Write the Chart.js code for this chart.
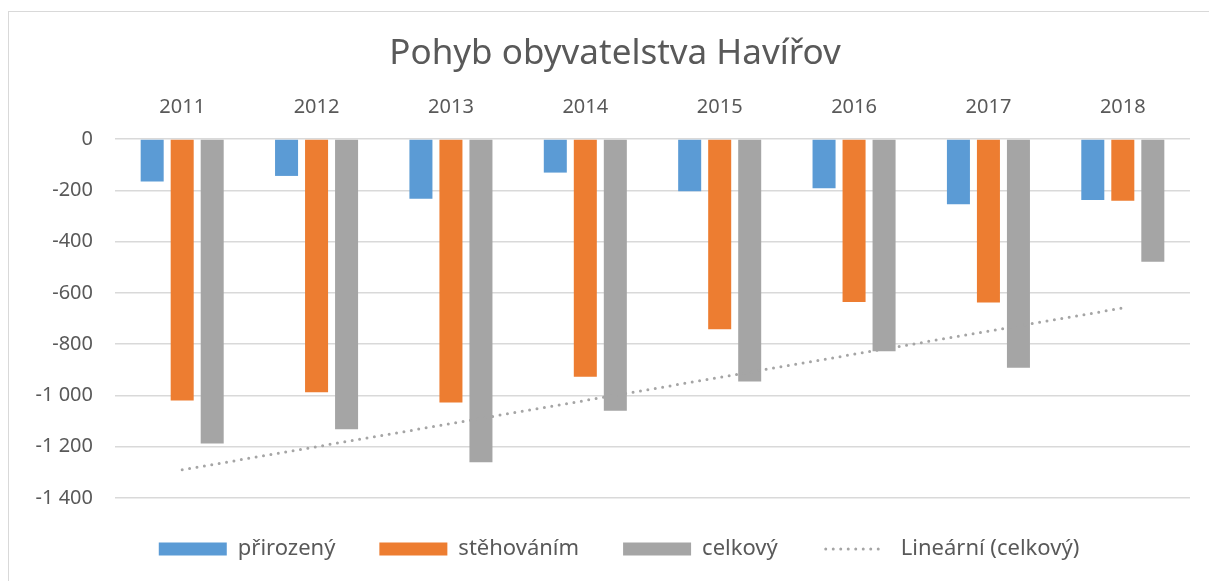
<!DOCTYPE html>
<html lang="cs">
<head>
  <meta charset="UTF-8" />
  <title>Pohyb obyvatelstva Havířov</title>
  <style>
    html, body {
      margin: 0;
      padding: 0;
      background: #fff;
    }
    #wrap {
      position: relative;
      width: 1209px;
      height: 581px;
    }
  </style>
</head>
<body>
  <div id="wrap">
    <canvas id="popChart"></canvas>
  </div>

  <script src="https://cdn.jsdelivr.net/npm/chart.js"></script>
  <script>
    // data
    const years = ['2011', '2012', '2013', '2014', '2015', '2016', '2017', '2018'];
    const prirozeny = [-166, -144, -233, -131, -204, -192, -254, -238];
    const stehovanim = [-1020, -988, -1028, -927, -742, -636, -638, -241];
    const celkovy = [-1187, -1132, -1261, -1060, -946, -828, -892, -479];
    // trend line: only its two ends
    const trendCelkovy = [-1290, null, null, null, null, null, null, -659];

    const textColor = '#595959';
    const fontFamily = "'Noto Sans', 'Open Sans', sans-serif";

    function fmt(v) {
      const s = Math.abs(v).toString().replace(/\B(?=(\d{3})+(?!\d))/g, ' ');
      return (v < 0 ? '-' : '') + s;
    }

    // thin frame round the chart, like the office chart box
    const framePlugin = {
      id: 'frame',
      beforeDraw(chart) {
        const c = chart.ctx;
        c.save();
        c.strokeStyle = '#d9d9d9';
        c.lineWidth = 1;
        c.strokeRect(8.5, 11.5, 1300, 700);
        c.restore();
      }
    };

    // title and legend are centred on the whole chart box, not the plot
    const shiftPlugin = {
      id: 'shiftBlocks',
      afterLayout(chart) {
        if (chart.titleBlock) {
          chart.titleBlock.left += 20;
          chart.titleBlock.right += 20;
        }
        if (chart.legend) {
          chart.legend.left += 24;
          chart.legend.right += 24;
          chart.legend.top -= 4;
          chart.legend.bottom -= 4;
        }
      }
    };

    // dotted sample for the trend line in the legend
    const trendLegendPlugin = {
      id: 'trendLegend',
      afterDraw(chart) {
        const boxes = chart.legend && chart.legend.legendHitBoxes;
        if (!boxes || !boxes[3]) return;
        const hb = boxes[3];
        const c = chart.ctx;
        c.save();
        c.strokeStyle = '#a5a5a5';
        c.lineWidth = 3;
        c.lineCap = 'round';
        c.setLineDash([0, 7.5]);
        const y = hb.top + hb.height / 2;
        c.beginPath();
        c.moveTo(hb.left + 4, y);
        c.lineTo(hb.left + 60, y);
        c.stroke();
        c.restore();
      }
    };

    const ctx = document.getElementById('popChart').getContext('2d');
    const popChart = new Chart(ctx, {
      type: 'bar',
      data: {
        labels: years,
        datasets: [
          {
            label: 'přirozený',
            data: prirozeny,
            backgroundColor: '#5b9bd5',
            order: 1
          },
          {
            label: 'stěhováním',
            data: stehovanim,
            backgroundColor: '#ed7d31',
            order: 1
          },
          {
            label: 'celkový',
            data: celkovy,
            backgroundColor: '#a5a5a5',
            order: 1
          },
          {
            type: 'line',
            label: 'Lineární (celkový)',
            data: trendCelkovy,
            borderColor: '#a5a5a5',
            borderWidth: 3,
            borderDash: [0, 7.5],
            borderCapStyle: 'round',
            pointRadius: 0,
            spanGaps: true,
            fill: false,
            order: 0
          }
        ]
      },
      options: {
        responsive: true,
        maintainAspectRatio: false,
        animation: false,
        datasets: {
          bar: {
            categoryPercentage: 0.67,
            barPercentage: 0.767
          }
        },
        layout: {
          padding: { top: 33, right: 19, bottom: 7, left: 0 }
        },
        scales: {
          x: {
            position: 'top',
            grid: { display: false, drawTicks: false },
            border: { display: false },
            ticks: {
              color: textColor,
              font: { family: fontFamily, size: 20 },
              padding: 20,
              maxRotation: 0
            },
            afterFit(s) { s.height = 64; }
          },
          y: {
            min: -1400,
            max: 0,
            grid: { color: '#d9d9d9', lineWidth: 1.5, drawTicks: false },
            border: { display: false },
            ticks: {
              stepSize: 200,
              color: textColor,
              font: { family: fontFamily, size: 20 },
              padding: 22,
              callback: v => fmt(v)
            },
            afterFit(s) { s.width = 115; }
          }
        },
        plugins: {
          title: {
            display: true,
            text: 'Pohyb obyvatelstva Havířov',
            color: textColor,
            font: { family: fontFamily, size: 35, weight: 'normal' },
            padding: { top: 0, bottom: 0 }
          },
          legend: {
            position: 'bottom',
            labels: {
              color: textColor,
              font: { family: fontFamily, size: 22 },
              boxWidth: 68,
              boxHeight: 13,
              padding: 44,
              sort: (a, b) => a.datasetIndex - b.datasetIndex,
              generateLabels(chart) {
                const items = Chart.defaults.plugins.legend.labels.generateLabels(chart);
                items.forEach(it => {
                  it.lineWidth = 0;
                  if (it.datasetIndex === 3) {
                    it.fillStyle = 'rgba(0,0,0,0)';
                    it.strokeStyle = 'rgba(0,0,0,0)';
                    it.lineDash = [];
                  }
                });
                return items;
              }
            }
          },
          tooltip: { enabled: false }
        }
      },
      plugins: [framePlugin, shiftPlugin, trendLegendPlugin]
    });
  </script>
</body>
</html>
